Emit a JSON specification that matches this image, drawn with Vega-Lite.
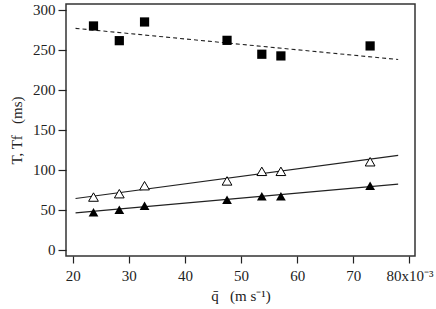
{
  "$schema": "https://vega.github.io/schema/vega-lite/v6.json",
  "width": 349,
  "height": 252,
  "autosize": {"type": "none"},
  "padding": {"left": 66, "top": 4, "right": 21, "bottom": 53},
  "background": "white",
  "config": {
    "view": {"stroke": "#333", "strokeWidth": 1.5},
    "font": "Liberation Serif",
    "axis": {
      "grid": false, "domain": false, "tickColor": "#222", "tickWidth": 1.2,
      "labelFont": "Liberation Serif", "labelFontSize": 15, "labelColor": "#222",
      "titleFont": "Liberation Serif", "titleFontSize": 15, "titleFontWeight": "normal", "titleColor": "#222"
    }
  },
  "datasets": {
    "pts": [
      {"q": 23.7, "T": 280, "Tf": 65.8, "Tf2": 46.7},
      {"q": 28.3, "T": 261.6, "Tf": 70, "Tf2": 50},
      {"q": 32.8, "T": 285, "Tf": 80, "Tf2": 55},
      {"q": 47.5, "T": 262, "Tf": 86, "Tf2": 62.5},
      {"q": 53.7, "T": 244.6, "Tf": 98, "Tf2": 66.7},
      {"q": 57.1, "T": 242.5, "Tf": 98, "Tf2": 66.7},
      {"q": 73.0, "T": 255, "Tf": 110, "Tf2": 80}
    ],
    "fits": [
      {"q": 20.5, "T": 277, "Tf": 64, "Tf2": 46},
      {"q": 78, "T": 238, "Tf": 118, "Tf2": 82}
    ]
  },
  "layer": [
    {
      "data": {"name": "fits"},
      "mark": {"type": "line", "color": "#222", "strokeWidth": 1.1, "strokeDash": [4, 3]},
      "encoding": {
        "x": {"field": "q", "type": "quantitative", "scale": {"domain": [18.8, 81], "nice": false, "zero": false},
          "axis": {"values": [20, 30, 40, 50, 60, 70, 80], "tickSize": 7, "labelPadding": 5, "titlePadding": 5,
            "labelFont": "Liberation Serif", "titleFont": "Liberation Serif",
            "labelExpr": "datum.value == 80 ? '80x10⁻³' : datum.label", "title": "q̄\u00a0\u00a0\u00a0(m s⁻¹)"}},
        "y": {"field": "T", "type": "quantitative", "scale": {"domain": [-8, 307.5], "nice": false, "zero": false},
          "axis": {"values": [0, 50, 100, 150, 200, 250, 300], "tickSize": 8, "labelPadding": 3, "titlePadding": 8,
            "labelFont": "Liberation Serif", "titleFont": "Liberation Serif",
            "title": "T, Tf\u00a0\u00a0\u00a0(ms)"}}
      }
    },
    {
      "data": {"name": "fits"},
      "mark": {"type": "line", "color": "#222", "strokeWidth": 1.1},
      "encoding": {"x": {"field": "q", "type": "quantitative"}, "y": {"field": "Tf", "type": "quantitative"}}
    },
    {
      "data": {"name": "fits"},
      "mark": {"type": "line", "color": "#222", "strokeWidth": 1.1},
      "encoding": {"x": {"field": "q", "type": "quantitative"}, "y": {"field": "Tf2", "type": "quantitative"}}
    },
    {
      "data": {"name": "pts"},
      "mark": {"type": "point", "shape": "square", "filled": true, "color": "black", "size": 85, "opacity": 1},
      "encoding": {"x": {"field": "q", "type": "quantitative"}, "y": {"field": "T", "type": "quantitative"}}
    },
    {
      "data": {"name": "pts"},
      "mark": {"type": "point", "shape": "triangle-up", "filled": true, "fill": "white", "stroke": "black", "strokeWidth": 1, "size": 95, "opacity": 1},
      "encoding": {"x": {"field": "q", "type": "quantitative"}, "y": {"field": "Tf", "type": "quantitative"}}
    },
    {
      "data": {"name": "pts"},
      "mark": {"type": "point", "shape": "triangle-up", "filled": true, "color": "black", "size": 95, "opacity": 1},
      "encoding": {"x": {"field": "q", "type": "quantitative"}, "y": {"field": "Tf2", "type": "quantitative"}}
    }
  ]
}
